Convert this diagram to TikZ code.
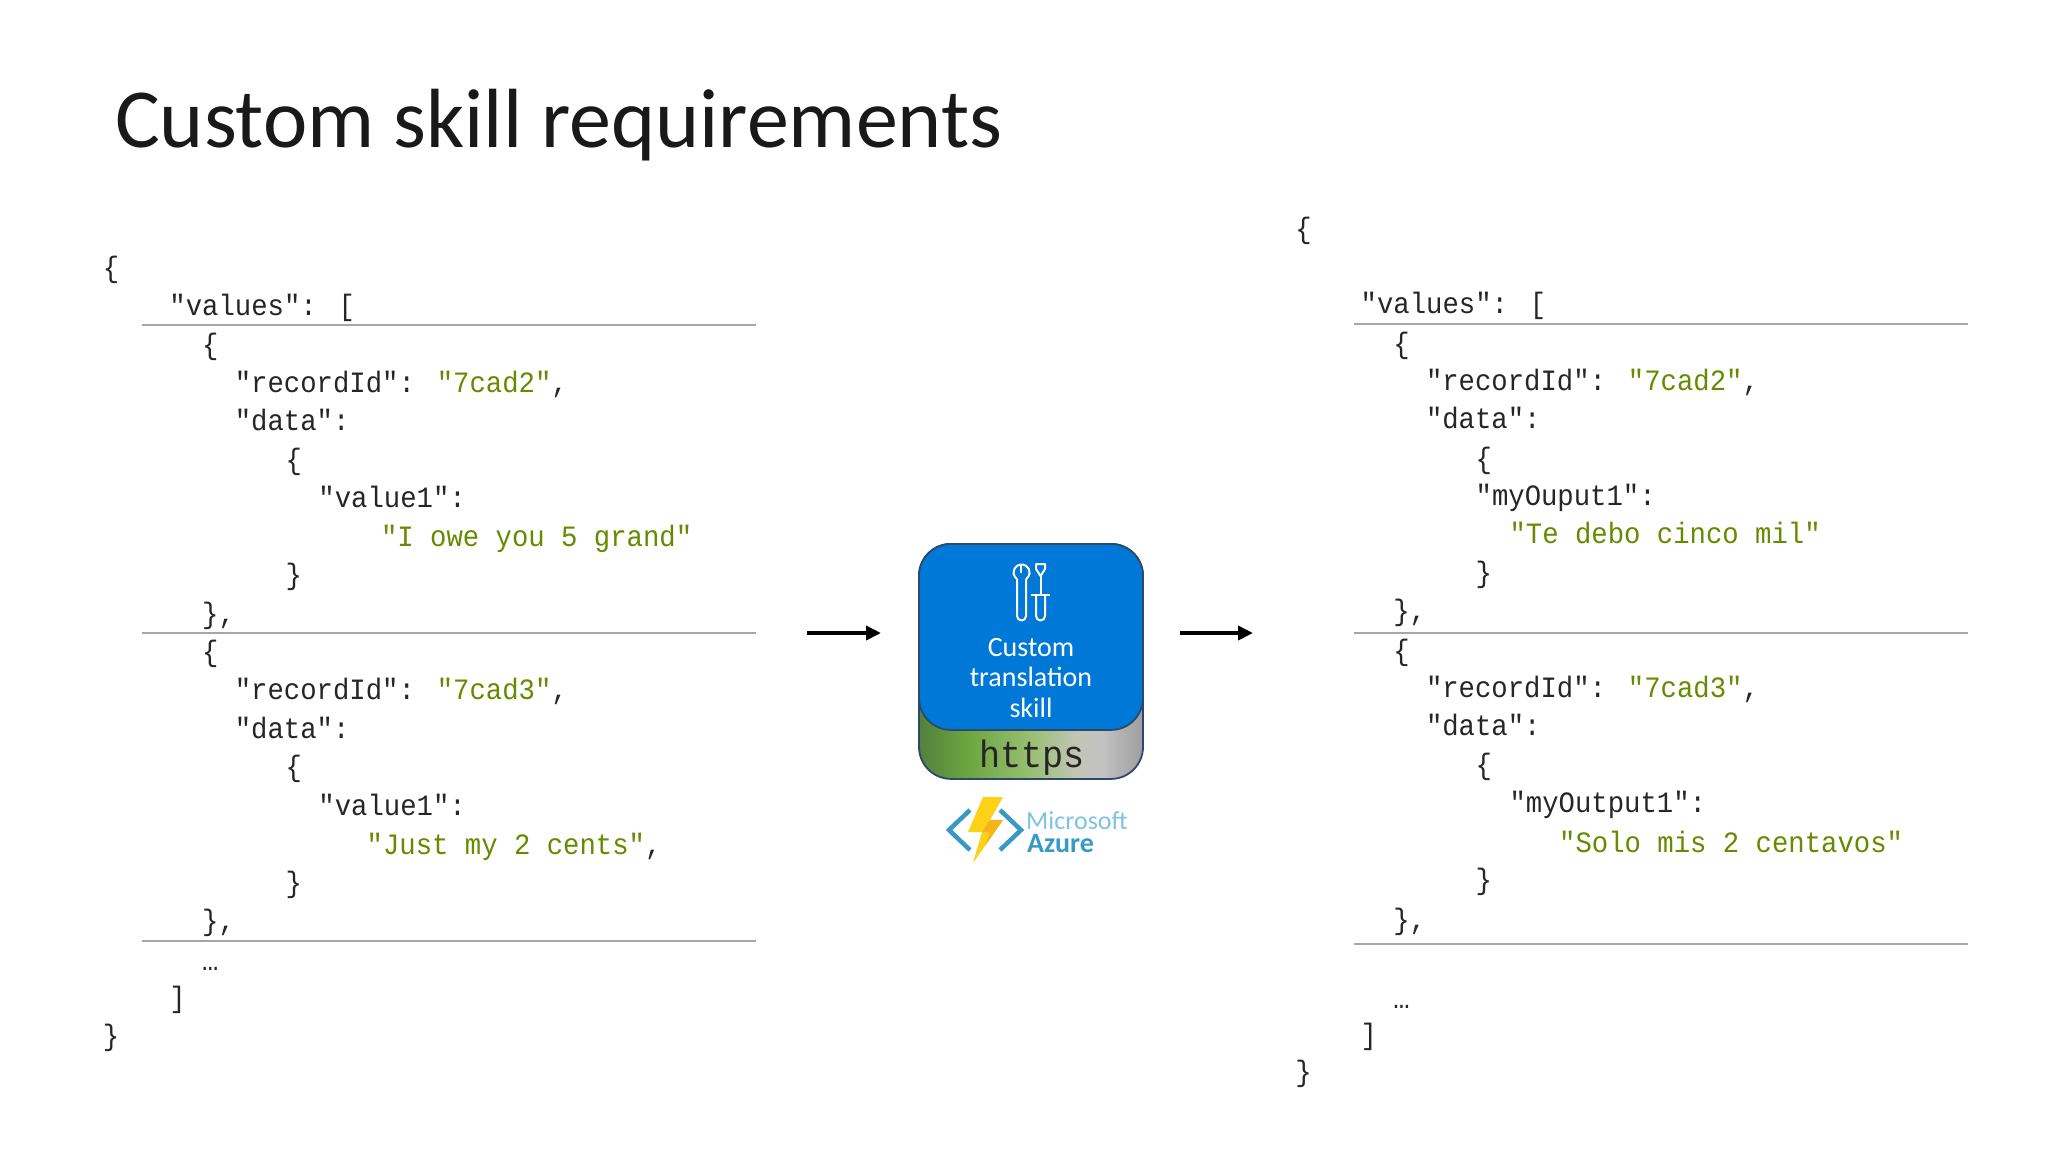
\documentclass[tikz,border=0pt]{standalone}
\usepackage{fontspec}
\usetikzlibrary{arrows.meta}
\setmainfont{Carlito}
\newfontfamily\codefam{Liberation Mono}[FakeStretch=0.925]
\definecolor{codeink}{HTML}{262626}
\definecolor{strgreen}{HTML}{668A00}
\definecolor{rulegray}{HTML}{A6A6A6}
\definecolor{skillblue}{HTML}{0078D7}
\definecolor{edgeblue}{HTML}{2B4A6B}
\definecolor{boltgold}{HTML}{FCD116}
\definecolor{boltdark}{HTML}{F5B518}
\definecolor{azureblue}{HTML}{3999C6}
\definecolor{azuretext}{HTML}{7CC4E0}
\pgfdeclarehorizontalshading{httpsband}{100bp}{
  rgb(0bp)=(0.33,0.50,0.24);
  rgb(25bp)=(0.33,0.50,0.24);
  rgb(36bp)=(0.42,0.65,0.25);
  rgb(50bp)=(0.60,0.75,0.45);
  rgb(60bp)=(0.76,0.77,0.71);
  rgb(66bp)=(0.76,0.76,0.76);
  rgb(75bp)=(0.62,0.62,0.62);
  rgb(100bp)=(0.62,0.62,0.62)}
\tikzset{
  code/.style={anchor=base west,inner sep=0pt,text=codeink,xshift=-0.5pt,yshift=-0.4pt,font=\codefam\fontsize{29.5}{32}\selectfont},
  rulel/.style={draw=rulegray,line width=2pt},
  flow/.style={line width=3.6pt,-{Stealth[length=15pt,width=14pt,inset=0pt]}},
  tool/.style={draw=white,line width=2pt,line join=round}
}
\newcommand{\str}[1]{\textcolor{strgreen}{#1}}
\begin{document}
\begin{tikzpicture}[x=1pt,y=-1pt]
\useasboundingbox (0,0) rectangle (2048,1152);
\fill[white] (0,0) rectangle (2048,1152);

\node[anchor=base west,inner sep=0pt,text=black!90,font=\fontsize{84}{86}\selectfont] (title) at (115,147) {Custom skill requirements};

% code columns, positions taken at 1568 wide
\begin{scope}[x=1.30612pt,y=-1.30612pt]
\node[code] (l1) at (79,212) {\{};
\node[code] (l2) at (130,241) {"values": [};
\node[code] (l3) at (155,271) {\{};
\node[code] (l4) at (180,300) {"recordId": \str{"7cad2"},};
\node[code] (l5) at (180,329) {"data":};
\node[code] (l6) at (219,359) {\{};
\node[code] (l7) at (244,388) {"value1":};
\node[code] (l8) at (292,418) {\str{"I owe you 5 grand"}};
\node[code] (l9) at (219,447) {\}};
\node[code] (l10) at (155,477) {\},};
\node[code] (l11) at (155,506) {\{};
\node[code] (l12) at (180,535) {"recordId": \str{"7cad3"},};
\node[code] (l13) at (180,565) {"data":};
\node[code] (l14) at (219,594) {\{};
\node[code] (l15) at (244,624) {"value1":};
\node[code] (l16) at (281,654) {\str{"Just my 2 cents"},};
\node[code] (l17) at (219,683) {\}};
\node[code] (l18) at (155,712) {\},};
\node[code] (l19) at (155,743) {…};
\node[code] (l20) at (130,771) {]};
\node[code] (l21) at (79,800) {\}};

\node[code] (r1) at (992,182) {\{};
\node[code] (r2) at (1042,240) {"values": [};
\node[code] (r3) at (1067,270) {\{};
\node[code] (r4) at (1092,299) {"recordId": \str{"7cad2"},};
\node[code] (r5) at (1092,328) {"data":};
\node[code] (r6) at (1130,358) {\{};
\node[code] (r7) at (1130,387) {"myOuput1":};
\node[code] (r8) at (1156,416) {\str{"Te debo cinco mil"}};
\node[code] (r9) at (1130,446) {\}};
\node[code] (r10) at (1067,475) {\},};
\node[code] (r11) at (1067,505) {\{};
\node[code] (r12) at (1092,534) {"recordId": \str{"7cad3"},};
\node[code] (r13) at (1092,563) {"data":};
\node[code] (r14) at (1130,593) {\{};
\node[code] (r15) at (1156,622) {"myOutput1":};
\node[code] (r16) at (1194,652) {\str{"Solo mis 2 centavos"}};
\node[code] (r17) at (1130,681) {\}};
\node[code] (r18) at (1067,711) {\},};
\node[code] (r19) at (1067,772) {…};
\node[code] (r20) at (1042,799) {]};
\node[code] (r21) at (992,828) {\}};

\draw[rulel] (109,248.5) -- (579,248.5);
\draw[rulel] (109,484.5) -- (579,484.5);
\draw[rulel] (109,720.5) -- (579,720.5);
\draw[rulel] (1037,248) -- (1507,248);
\draw[rulel] (1037,485) -- (1507,485);
\draw[rulel] (1037,723) -- (1507,723);
\end{scope}

% arrows
\coordinate (ain) at (807,633);
\coordinate (aink) at (881,633);
\coordinate (aout) at (1180,633);
\coordinate (aoutk) at (1253,633);
\draw[flow] (ain) -- (aink);
\draw[flow] (aout) -- (aoutk);

% skill box
\node[anchor=north,minimum width=224pt,minimum height=235pt,rounded corners=32pt,shading=httpsband,draw=edgeblue,line width=1.8pt,inner sep=0pt] (band) at (1031,543) {};
\node[anchor=north,minimum width=224pt,minimum height=186pt,rounded corners=32pt,fill=skillblue,draw=edgeblue,line width=1.8pt,inner sep=0pt] (skill) at (1031,543) {};
\node[anchor=base,inner sep=0pt,text=white,font=\fontsize{28}{30.5}\selectfont,align=center] (lb) at (1031,717) {Custom\\translation\\skill};
\node[anchor=base,inner sep=0pt,text=black!85,font=\codefam\fontsize{38}{40}\selectfont] (https) at (1032,767) {https};

% tools icon
\draw[tool] (1017,579) -- (1017,616) arc[start angle=180,end angle=360,radius=4.5pt] -- (1026,579);
\draw[tool] (1017,579) arc[start angle=235,end angle=-55,radius=8pt] ;
\draw[tool] (1021,564) -- (1021,573);
\draw[tool] (1036,564) -- (1045,564) -- (1045,569) -- (1040.5,576) -- (1036,569) -- cycle;
\draw[tool] (1040.5,576) -- (1040.5,595);
\draw[tool] (1031,595) -- (1050,595);
\draw[tool] (1036,595) -- (1036,616) arc[start angle=180,end angle=360,radius=4.5pt] -- (1045,595);

% azure logo
\fill[boltgold] (983,797) -- (1003,797) -- (990,820) -- (1003,820) -- (973,863) -- (982,832) -- (968,832) -- cycle;
\fill[boltdark] (990,820) -- (1003,820) -- (985,846) -- (990,832) -- (982,832) -- cycle;
\draw[azureblue,line width=4.5pt] (970,810) -- (949,830) -- (970,850);
\draw[azureblue,line width=4.5pt] (1000,810) -- (1021,830) -- (1000,850);
\node[anchor=base west,inner sep=0pt,text=azuretext,font=\fontsize{26}{28}\selectfont] (ms) at (1026,829) {Microsoft};
\node[anchor=base west,inner sep=0pt,text=azureblue,font=\bfseries\fontsize{28}{30}\selectfont] (az) at (1027,852) {Azure};
\end{tikzpicture}
\end{document}
